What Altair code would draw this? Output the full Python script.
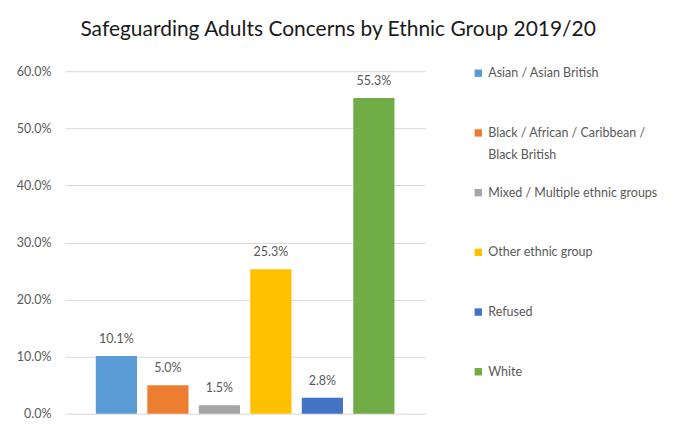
import altair as alt
import pandas as pd

categories = ["Asian / Asian British", "Black / African / Caribbean / Black British",
              "Mixed / Multiple ethnic groups", "Other ethnic group", "Refused", "White"]
legend_labels = ["Asian / Asian British", "Black / African / Caribbean /\nBlack British",
                 "Mixed / Multiple ethnic groups", "Other ethnic group", "Refused", "White"]
values = [0.101, 0.050, 0.015, 0.253, 0.028, 0.553]
colors = ["#5B9BD5", "#ED7D31", "#A5A5A5", "#FFC000", "#4472C4", "#70AD47"]
y_ticks = [0.0, 0.1, 0.2, 0.3, 0.4, 0.5, 0.6]

df = pd.DataFrame({"cat": categories, "value": values, "label": legend_labels})
color_scale = alt.Scale(domain=categories, range=colors)
FONT = "Lato"
GRAY = "#595959"

base = alt.Chart(df)
bars = base.mark_bar().encode(
    x=alt.X("cat:N", sort=categories, axis=None,
            scale=alt.Scale(paddingInner=0.2, paddingOuter=0.6)),
    y=alt.Y("value:Q", scale=alt.Scale(domain=[0, 0.6]),
            axis=alt.Axis(values=y_ticks, format=".1%", title=None, ticks=False,
                          domain=False, labelPadding=14, labelFont=FONT,
                          labelFontSize=12.5, labelColor=GRAY,
                          gridColor="#D9D9D9")),
    color=alt.Color("cat:N", scale=color_scale, legend=None),
)
labels = base.mark_text(baseline="bottom", dy=-10, font=FONT, fontSize=12.5,
                        color=GRAY).encode(
    x=alt.X("cat:N", sort=categories),
    y=alt.Y("value:Q"),
    text=alt.Text("value:Q", format=".1%"),
)
main = (bars + labels).properties(width=361, height=343)

leg_y = alt.Y("cat:N", sort=categories, axis=None,
              scale=alt.Scale(range=[2, 301], padding=0))
leg_sq = base.mark_square(size=55, opacity=1).encode(
    x=alt.value(8), y=leg_y,
    color=alt.Color("cat:N", scale=color_scale, legend=None),
)
leg_txt = base.mark_text(align="left", baseline="alphabetic", dy=4, font=FONT,
                         fontSize=12.5, color=GRAY, lineBreak="\n",
                         lineHeight=22).encode(
    x=alt.value(18), y=leg_y, text="label:N",
)
legend = (leg_sq + leg_txt).properties(width=190, height=343)

chart = alt.hconcat(main, legend, spacing=45).properties(
    padding={"top": 11, "left": 8, "right": 5, "bottom": 0},
    title=alt.TitleParams("Safeguarding Adults Concerns by Ethnic Group 2019/20",
                          font=FONT, fontSize=21, fontWeight="normal",
                          color="#1A1A1A", anchor="middle", offset=25)
).configure_view(stroke=None)

chart.save("out.html", embed_options={"renderer": "svg", "actions": False})
